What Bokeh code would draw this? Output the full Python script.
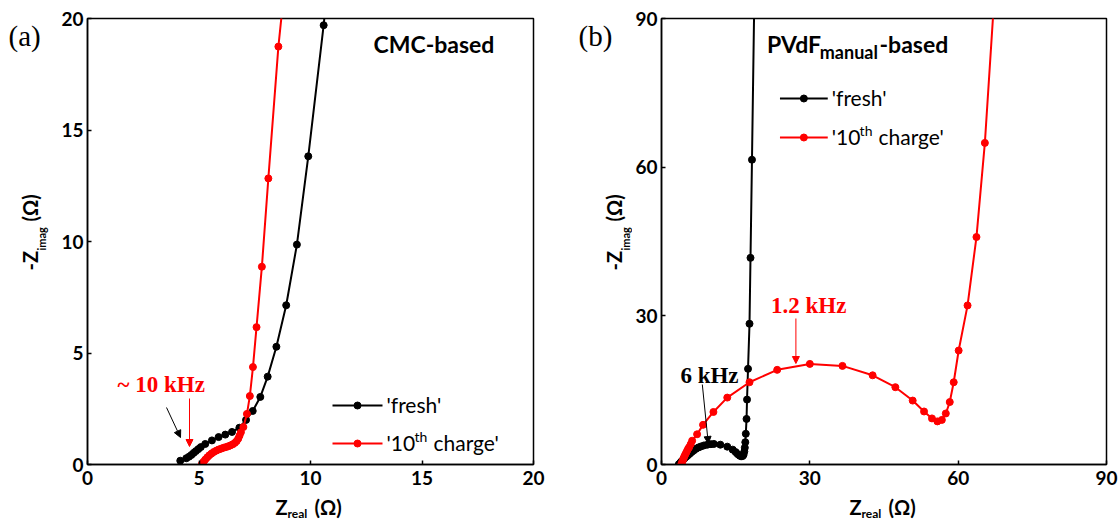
import math
from bokeh.plotting import figure
from bokeh.layouts import row, column
from bokeh.models import Label, Arrow, NormalHead, Range1d, FixedTicker
from bokeh.embed import file_html
from bokeh.resources import INLINE

# ---------------- data ----------------
# Panel (a): CMC-based
a_fresh_x = [4.16, 4.43, 4.55, 4.66, 4.76, 4.86, 4.97, 5.08, 5.28, 5.58, 5.88, 6.18, 6.48,
             6.81, 7.11, 7.41, 7.75, 8.08, 8.47, 8.91, 9.39, 9.90, 10.59, 11.3]
a_fresh_y = [0.17, 0.28, 0.35, 0.43, 0.52, 0.60, 0.69, 0.78, 0.92, 1.08, 1.23, 1.34, 1.46,
             1.65, 2.00, 2.40, 3.03, 3.94, 5.28, 7.14, 9.86, 13.82, 19.70, 27.0]
a_charge_x = [5.13, 5.20, 5.28, 5.37, 5.46, 5.56, 5.66, 5.77, 5.88, 5.99, 6.10, 6.21, 6.32,
              6.42, 6.52, 6.61, 6.69, 6.76, 6.82, 6.88, 6.99, 7.15, 7.28, 7.42, 7.58, 7.82,
              8.11, 8.56, 9.0]
a_charge_y = [0.02, 0.12, 0.22, 0.32, 0.41, 0.49, 0.56, 0.62, 0.67, 0.71, 0.75, 0.78, 0.82,
              0.86, 0.91, 0.97, 1.05, 1.16, 1.30, 1.45, 1.68, 2.27, 3.07, 4.37, 6.16, 8.87,
              12.83, 18.74, 23.0]

# Panel (b): PVdF_manual-based
b_fresh_x = [3.5, 3.8, 4.1, 4.4, 4.7, 5.05, 5.4, 5.8, 6.2, 6.6, 7.0, 7.5, 8.0, 8.6, 9.3,
             10.0, 10.6, 11.9, 13.3, 14.4, 15.0, 15.4, 15.8, 16.1, 16.4, 16.6, 16.75, 16.85,
             16.95, 17.05, 17.2, 17.3, 17.5, 17.8, 18.0, 18.3, 19.0]
b_fresh_y = [0.05, 0.35, 0.7, 1.0, 1.3, 1.6, 1.9, 2.25, 2.6, 2.9, 3.2, 3.45, 3.65, 3.85, 4.0,
             4.1, 4.15, 4.0, 3.6, 3.0, 2.5, 2.1, 1.8, 1.65, 1.7, 1.95, 2.6, 3.4,
             4.5, 6.2, 9.2, 13.1, 19.3, 28.4, 41.7, 61.5, 110.0]
b_charge_x = [4.0, 4.15, 4.3, 4.45, 4.6, 4.8, 5.0, 5.2, 5.4, 5.6, 5.9, 6.2, 7.2, 8.4, 10.5,
              13.3, 17.8, 23.4, 30.0, 36.6, 42.7, 47.3, 50.8, 53.1, 54.7, 55.8, 56.7, 57.5,
              58.3, 59.1, 60.1, 61.9, 63.7, 65.4, 68.0]
b_charge_y = [0.05, 0.4, 0.8, 1.2, 1.6, 2.0, 2.4, 2.8, 3.2, 3.5, 4.1, 4.8, 6.1, 8.0, 10.6,
              13.5, 16.6, 19.1, 20.3, 19.9, 18.0, 15.6, 12.9, 10.7, 9.3, 8.7, 9.0, 10.3,
              12.6, 16.6, 23.0, 32.1, 45.9, 64.9, 105.0]

a_ticks = [0, 5, 10, 15, 20]
b_ticks = [0, 30, 60, 90]

series_names = ["'fresh'", "'10", "th", "charge'"]
colors = ["black", "#ff0000"]

# ---------------- geometry (page pixels, page has no margin) ----------------
MAIN_H = 494
XL_H = 521 - MAIN_H
FA = dict(left=87, right=533, top=18, bottom=464, xmax=20, ymax=20)
FB = dict(left=659, right=1106, top=18, bottom=464, xmax=90, ymax=90)
MID = {"Lato": 0.36, "Liberation Serif": 0.34}   # baseline -> middle offset (em)


def tx(F, px):
    return (px - F["left"]) * F["xmax"] / (F["right"] - F["left"])


def ty(F, py):
    return (F["bottom"] - py) * F["ymax"] / (F["bottom"] - F["top"])


def txt_kw(text, size, font, style, color, align, angle):
    return dict(text=text, text_font=font, text_font_size=f"{size}px", text_font_style=style,
                text_color=color, text_align=align, text_baseline="middle", angle=angle)


def to_mid(px, py, size, font, angle):
    d = MID[font] * size
    if angle:
        return px - d, py
    return px, py - d


def lab(p, F, px, py, text, size, font="Lato", style="normal", color="black",
        align="left", angle=0.0):
    # label inside a data frame; (px, py) = page pixel position of the baseline start
    mx, my = to_mid(px, py, size, font, angle)
    p.add_layout(Label(x=tx(F, mx), y=ty(F, my),
                       **txt_kw(text, size, font, style, color, align, angle)))


def put(fig, box, px, py, text, size, font="Lato", style="bold", color="black",
        align="left", angle=0.0):
    # label inside a text-only figure whose frame maps 1:1 to its pixels
    left, top, w, h = box
    mx, my = to_mid(px, py, size, font, angle)
    fig.add_layout(Label(x=mx - left, y=top + h - my,
                         **txt_kw(text, size, font, style, color, align, angle)))


def text_fig(box):
    left, top, w, h = box
    f = figure(width=w, height=h, x_range=Range1d(0, w), y_range=Range1d(0, h),
               x_axis_type=None, y_axis_type=None, min_border=0, title=None,
               output_backend="svg", toolbar_location=None, outline_line_color=None,
               frame_align=False)
    return f


def make_fig(width, bl, br, xmax, ymax, ticks):
    p = figure(width=width, height=MAIN_H, x_range=Range1d(0, xmax), y_range=Range1d(0, ymax),
               output_backend="svg", toolbar_location=None, title=None,
               min_border_left=bl, min_border_right=br, min_border_top=18,
               min_border_bottom=MAIN_H - 464, frame_align=False)
    p.grid.visible = False
    p.outline_line_color = "black"
    p.outline_line_width = 1.5
    p.outline_line_alpha = 1
    for ax, so in ((p.xaxis[0], 6), (p.yaxis[0], 4)):
        ax.ticker = FixedTicker(ticks=ticks, minor_ticks=[])
        ax.major_tick_in = 4
        ax.major_tick_out = 0
        ax.minor_tick_in = 0
        ax.minor_tick_out = 0
        ax.axis_line_width = 1.5
        ax.major_tick_line_width = 1.5
        ax.major_label_text_font = "Lato"
        ax.major_label_text_font_style = "bold"
        ax.major_label_text_font_size = "19px"
        ax.major_label_text_color = "black"
        ax.major_label_standoff = so
    return p


def series(p, x, y, color):
    p.line(x, y, line_color=color, line_width=2)
    p.scatter(x, y, size=7, fill_color=color, line_color=color)


def legend(p, F, x0, x1, ys, t0, size):
    for yy, c in zip(ys, colors):
        p.segment(x0=[tx(F, x0)], y0=[ty(F, yy)], x1=[tx(F, x1)], y1=[ty(F, yy)],
                  line_color=c, line_width=2)
        p.scatter([tx(F, (x0 + x1) / 2)], [ty(F, yy)], size=7, fill_color=c, line_color=c)
    bl0 = ys[0] + 7
    bl1 = ys[1] + 7
    lab(p, F, t0, bl0, series_names[0], size)
    lab(p, F, t0, bl1, series_names[1], size)
    lab(p, F, t0 + 28, bl1 - 9, series_names[2], 14)
    lab(p, F, t0 + 47, bl1, series_names[3], size)


def y_label(fig, box, bx):
    up = math.pi / 2
    put(fig, box, bx, 270, "-Z", 20, angle=up)
    put(fig, box, bx + 8, 250, "imag", 11, angle=up)
    put(fig, box, bx, 221, "(\u03a9)", 20, angle=up)


def x_label(fig, box, x0):
    put(fig, box, x0, 513.7, "Z", 20)
    put(fig, box, x0 + 12, 517.8, "real", 12)
    put(fig, box, x0 + 39, 513.7, "(\u03a9)", 20)


# ---------------- panel (a) ----------------
YA = (0, 0, 55, MAIN_H)
XA = (0, MAIN_H, 560, XL_H)
ya = text_fig(YA)
xa = text_fig(XA)
pa = make_fig(560 - 55, FA["left"] - 55, 560 - FA["right"], 20, 20, a_ticks)
series(pa, a_fresh_x, a_fresh_y, colors[0])
series(pa, a_charge_x, a_charge_y, colors[1])
legend(pa, FA, 332, 382, [405, 443], 386, 21)
lab(pa, FA, 373, 52, "CMC-based", 23, style="bold")
lab(pa, FA, 117, 392, "~ 10 kHz", 23, font="Liberation Serif", style="bold", color=colors[1])
pa.add_layout(Arrow(end=NormalHead(size=7, fill_color="black", line_color="black"),
                    x_start=tx(FA, 166), y_start=ty(FA, 407), x_end=tx(FA, 180), y_end=ty(FA, 437),
                    line_color="black", line_width=1))
pa.add_layout(Arrow(end=NormalHead(size=7, fill_color=colors[1], line_color=colors[1]),
                    x_start=tx(FA, 189), y_start=ty(FA, 398), x_end=tx(FA, 189), y_end=ty(FA, 446),
                    line_color=colors[1], line_width=1))
put(ya, YA, 8, 45, "(a)", 29, font="Liberation Serif", style="normal")
y_label(ya, YA, 37)
x_label(xa, XA, 275)

# ---------------- panel (b) ----------------
YB = (560, 0, 72, MAIN_H)
XB = (560, MAIN_H, 559, XL_H)
yb = text_fig(YB)
xb = text_fig(XB)
pb = make_fig(1119 - 632, FB["left"] - 632, 1119 - FB["right"], 90, 90, b_ticks)
series(pb, b_fresh_x, b_fresh_y, colors[0])
series(pb, b_charge_x, b_charge_y, colors[1])
legend(pb, FB, 778, 826, [98, 137], 830, 21)
lab(pb, FB, 765, 52, "PVdF", 23, style="bold")
lab(pb, FB, 818, 58, "manual", 18, style="bold")
lab(pb, FB, 878, 52, "-based", 23, style="bold")
lab(pb, FB, 769, 313, "1.2 kHz", 23, font="Liberation Serif", style="bold", color=colors[1])
lab(pb, FB, 678, 383, "6 kHz", 23, font="Liberation Serif", style="bold", color="black")
pb.add_layout(Arrow(end=NormalHead(size=7, fill_color=colors[1], line_color=colors[1]),
                    x_start=tx(FB, 794), y_start=ty(FB, 318), x_end=tx(FB, 794), y_end=ty(FB, 363),
                    line_color=colors[1], line_width=1))
pb.add_layout(Arrow(end=NormalHead(size=7, fill_color="black", line_color="black"),
                    x_start=tx(FB, 700), y_start=ty(FB, 384), x_end=tx(FB, 706), y_end=ty(FB, 443),
                    line_color="black", line_width=1))
put(yb, YB, 578, 45, "(b)", 29, font="Liberation Serif", style="normal")
y_label(yb, YB, 621)
x_label(xb, XB, 849)

layout = row(column(row(ya, pa), xa), column(row(yb, pb), xb))
open("out.html", "w").write(file_html(layout, INLINE))
